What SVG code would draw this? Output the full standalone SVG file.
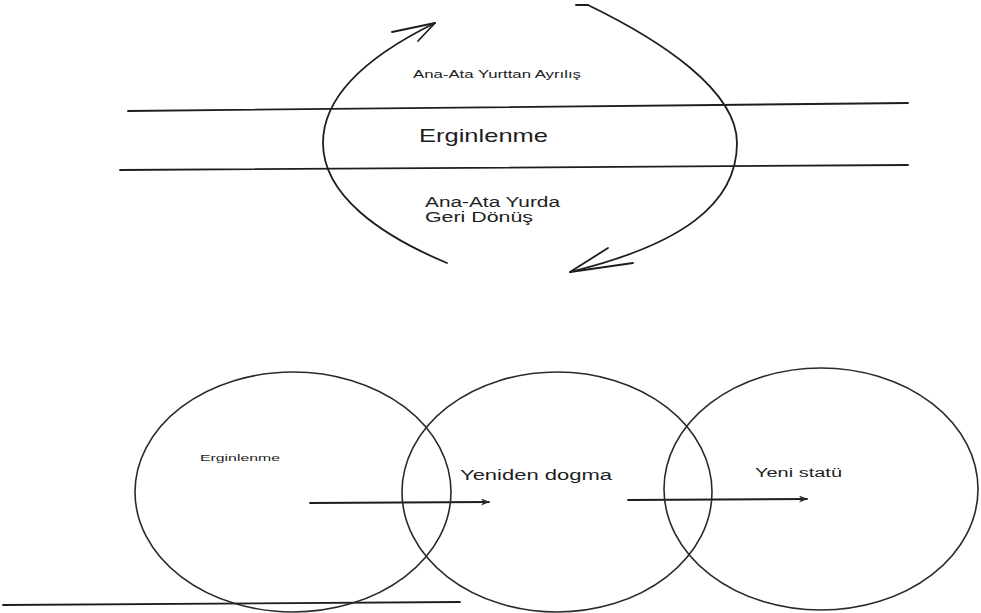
<svg xmlns="http://www.w3.org/2000/svg" width="981" height="613" viewBox="0 0 981 613">
<style>
.ln{fill:none;stroke:#1e1e1e;stroke-width:1.8;stroke-linecap:round;stroke-linejoin:round}
.ci{fill:none;stroke:#2a2a2a;stroke-width:1.6}
.t{font-family:"Liberation Sans",Arial,sans-serif;fill:#1e1e1e}
</style>
<defs>
<marker id="ah" viewBox="0 0 10 10" refX="9" refY="5" markerWidth="9" markerHeight="7" markerUnits="userSpaceOnUse" orient="auto" preserveAspectRatio="none">
<path d="M0,0 L10,5 L0,10 L3,5 Z" fill="#2a2a2a"/>
</marker>
</defs>
<rect width="981" height="613" fill="#ffffff"/>

<g id="band">
<line class="ln" x1="128" y1="111" x2="908" y2="103"/>
<line class="ln" x1="120" y1="170" x2="908" y2="165"/>
</g>

<g id="connectors">
<path class="ln" d="M435,23 C380,50 323,90 323,143 C323,195 380,235 447,263"/>
<path class="ln" d="M435,23 L392,32 M435,23 L418,41"/>
<path class="ln" d="M588,5 C660,40 737,90 737,143 C737,205 680,245 570,272"/>
<path class="ln" d="M570,272 L608,248 M570,272 L633,263"/>
<path class="ln" d="M576,5 L588,5" stroke-width="1"/>
<line class="ln" x1="310" y1="503" x2="489" y2="502" stroke-width="1.6" marker-end="url(#ah)"/>
<line class="ln" x1="628" y1="500" x2="807" y2="499" stroke-width="1.6" marker-end="url(#ah)"/>
<line class="ln" x1="3" y1="605" x2="460" y2="602" stroke-width="1.6"/>
</g>

<g id="top-labels">
<text class="t" x="413" y="78" font-size="11" textLength="168" lengthAdjust="spacingAndGlyphs">Ana-Ata Yurttan Ayrılış</text>
<text class="t" x="419" y="142" font-size="19" textLength="129" lengthAdjust="spacingAndGlyphs">Erginlenme</text>
<text class="t" x="425" y="207" font-size="14" textLength="135" lengthAdjust="spacingAndGlyphs">Ana-Ata Yurda</text>
<text class="t" x="425" y="222" font-size="14" textLength="108" lengthAdjust="spacingAndGlyphs">Geri Dönüş</text>
</g>

<g id="circle-erginlenme">
<ellipse class="ci" cx="293" cy="492" rx="158" ry="120"/>
<text class="t" x="200" y="461" font-size="9.5" textLength="80" lengthAdjust="spacingAndGlyphs">Erginlenme</text>
</g>

<g id="circle-yeniden">
<ellipse class="ci" cx="557" cy="492" rx="155" ry="120"/>
<text class="t" x="460" y="480" font-size="14" textLength="152" lengthAdjust="spacingAndGlyphs">Yeniden dogma</text>
</g>

<g id="circle-statu">
<ellipse class="ci" cx="821" cy="489" rx="157" ry="121"/>
<text class="t" x="755" y="477" font-size="12" textLength="87" lengthAdjust="spacingAndGlyphs">Yeni statü</text>
</g>
</svg>
